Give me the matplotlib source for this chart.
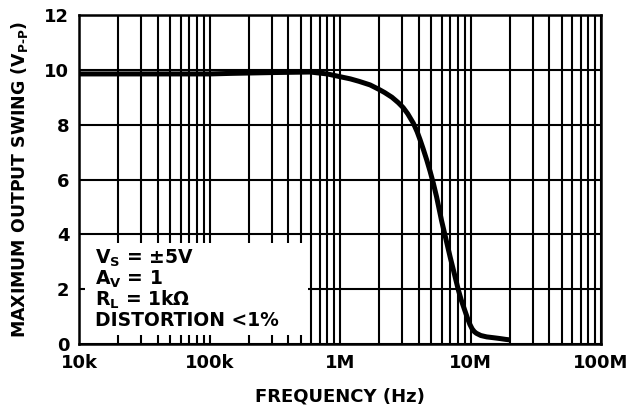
import matplotlib
matplotlib.use("Agg")
import matplotlib.pyplot as plt
from matplotlib.patches import Rectangle
from matplotlib.ticker import FixedLocator, LogLocator, NullFormatter

plt.rcParams['font.family'] = ['DejaVu Sans']
plt.rcParams['font.weight'] = 'bold'
plt.rcParams['mathtext.default'] = 'bf'

# Data
freq_hz = [10e3, 30e3, 60e3, 100e3, 144e3, 300e3, 589e3, 0.8e6, 1.0e6, 1.2e6, 1.4e6,
           1.7e6, 2.0e6, 2.2e6, 2.5e6, 2.8e6, 3.05e6, 3.3e6, 3.65e6, 3.9e6,
           4.1e6, 4.35e6, 4.62e6, 4.9e6, 5.19e6, 5.5e6, 6.0e6, 6.5e6, 7.0e6,
           7.5e6, 8.07e6, 8.5e6, 9.08e6, 9.5e6, 9.9e6, 10.3e6, 10.7e6, 11.1e6,
           12e6, 13.3e6, 15e6, 16.8e6, 18.5e6, 20.1e6]
swing_vpp = [9.85, 9.85, 9.85, 9.85, 9.87, 9.9, 9.92, 9.85, 9.75, 9.67, 9.58,
             9.45, 9.28, 9.17, 9.0, 8.8, 8.62, 8.4, 8.05, 7.74,
             7.46, 7.1, 6.71, 6.3, 5.86, 5.36, 4.5, 3.8, 3.15,
             2.58, 1.97, 1.6, 1.2, 0.93, 0.71, 0.55, 0.45, 0.39,
             0.31, 0.26, 0.23, 0.2, 0.17, 0.15]

x_ticks = [1e4, 1e5, 1e6, 1e7, 1e8]
x_tick_labels = ["10k", "100k", "1M", "10M", "100M"]
y_ticks = [0, 2, 4, 6, 8, 10, 12]
y_tick_labels = ["0", "2", "4", "6", "8", "10", "12"]

annotation_lines = ["V$_\\mathbf{S}$ = ±5V", "A$_\\mathbf{V}$ = 1",
                    "R$_\\mathbf{L}$ = 1k$\\Omega$", "DISTORTION <1%"]

fig = plt.figure(figsize=(6.35, 4.12), dpi=100)
ax = fig.add_axes([0.1244, 0.165, 0.8221, 0.7986])

ax.set_xscale('log')
ax.set_xlim(1e4, 1e8)
ax.set_ylim(0, 12)
ax.set_axisbelow(True)

ax.xaxis.set_major_locator(FixedLocator(x_ticks))
ax.set_xticklabels(x_tick_labels, fontsize=13, fontweight='bold')
ax.xaxis.set_minor_locator(LogLocator(base=10, subs=range(2, 10)))
ax.xaxis.set_minor_formatter(NullFormatter())
ax.set_yticks(y_ticks)
ax.set_yticklabels(y_tick_labels, fontsize=13, fontweight='bold')

ax.grid(True, which='both', axis='x', color='black', linewidth=1.5)
ax.grid(True, which='major', axis='y', color='black', linewidth=1.5)
ax.tick_params(axis='both', which='both', length=0)
ax.tick_params(axis='x', pad=7)
ax.tick_params(axis='y', pad=7)

for s in ax.spines.values():
    s.set_linewidth(1.8)
    s.set_zorder(5)

ax.add_patch(Rectangle((0.0115, 0.0274), 0.4272, 0.2796, transform=ax.transAxes,
                       facecolor='white', edgecolor='none', zorder=2))

ax.plot(freq_hz, swing_vpp, color='black', linewidth=3.6, solid_joinstyle='round',
        solid_capstyle='butt', zorder=4)

y_pos = [0.261, 0.198, 0.134, 0.073]
for line, yp in zip(annotation_lines, y_pos):
    ax.text(0.031, yp, line, transform=ax.transAxes, fontsize=13.5,
            fontweight='bold', va='center', ha='left', zorder=6)

ax.set_xlabel("FREQUENCY (Hz)", fontsize=13, fontweight='bold', labelpad=11)
ax.set_ylabel("MAXIMUM OUTPUT SWING (V$_\\mathbf{P\\text{-}P}$)", fontsize=12.5,
              fontweight='bold', labelpad=10)

fig.savefig("out.png", dpi=100)
